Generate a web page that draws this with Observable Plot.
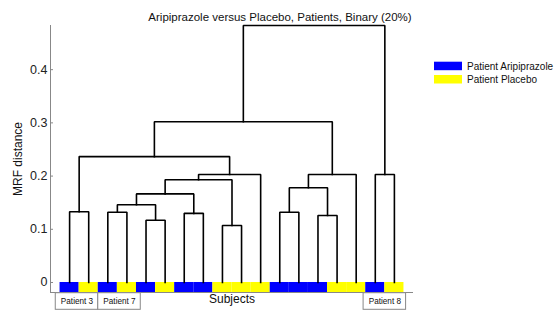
<!DOCTYPE html>
<html><head><meta charset="utf-8">
<script src="https://cdn.jsdelivr.net/npm/d3@7"></script>
<script src="https://cdn.jsdelivr.net/npm/@observablehq/plot@0.6"></script>
<style>body{margin:0;background:#fff} svg{display:block}</style>
</head><body><div id="chart"></div>
<script>
const title = "Aripiprazole versus Placebo, Patients, Binary (20%)";
const yLabel = "MRF distance";
const xLabel = "Subjects";
// leaf groups in dendrogram order: A = Aripiprazole, P = Placebo
const leafGroups = ["A","P","A","P","A","P","A","A","P","P","P","A","A","A","P","P","A","P"];
const groupKeys = ["A","P"];
const groupLabels = ["Patient Aripiprazole","Patient Placebo"];
const groupColors = ["#0000ff","#ffff00"];
// linkage rows: leaves 1..18, clusters numbered 19.. in row order
const mergeLeft   = [1, 3, 5, 20, 7, 22, 9, 24, 26, 19, 12, 14, 29, 31, 28, 17, 33];
const mergeRight  = [2, 4, 6, 21, 8, 23, 10, 25, 11, 27, 13, 15, 30, 16, 32, 18, 34];
const mergeHeight = [0.133, 0.132, 0.117, 0.146, 0.130, 0.1665, 0.107, 0.193, 0.203, 0.2366, 0.132, 0.126, 0.178, 0.203, 0.302, 0.203, 0.483];
const yTicks = [0, 0.1, 0.2, 0.3, 0.4];
const patientLabels = ["Patient 3", "Patient 7", "Patient 8"];
const patientFirstLeaf = [1, 3, 17];
const patientLastLeaf = [2, 4, 18];

const n = leafGroups.length;
const yMin = -0.0188, yMax = 0.483;
const W = 559, H = 328, mL = 50, mR = 146, mT = 25, mB = 36;
const xDomain = [0, n + 1];
const pxPerUnit = (W - mL - mR) / (xDomain[1] - xDomain[0]);

const leaves = leafGroups.map((g, i) => ({pos: i + 1, group: g}));
const nodeX = [], nodeH = [];
for (let i = 1; i <= n; i++) { nodeX[i] = i; nodeH[i] = 0; }
const segs = [];
mergeLeft.forEach((l, k) => {
  const r = mergeRight[k], h = mergeHeight[k], id = n + 1 + k;
  nodeX[id] = (nodeX[l] + nodeX[r]) / 2; nodeH[id] = h;
  segs.push({id, x: nodeX[l], y: nodeH[l]}, {id, x: nodeX[l], y: h},
            {id, x: nodeX[r], y: h}, {id, x: nodeX[r], y: nodeH[r]});
});

// annotation boxes, centred under their leaf pairs, nudged apart if they overlap
const boxHalf = 21.25 / pxPerUnit;
const boxes = patientLabels.map((label, i) => {
  const c = (patientFirstLeaf[i] + patientLastLeaf[i]) / 2;
  return {label, x1: c - boxHalf, x2: c + boxHalf};
});
for (let i = 1; i < boxes.length; i++) {
  const ov = boxes[i - 1].x2 - boxes[i].x1;
  if (ov > 0) { boxes[i - 1].x1 -= ov / 2; boxes[i - 1].x2 -= ov / 2; boxes[i].x1 += ov / 2; boxes[i].x2 += ov / 2; }
}
boxes.forEach(b => b.cx = (b.x1 + b.x2) / 2);

const font = "'Liberation Sans', Arial, Helvetica, sans-serif";
const axisGray = "#888";

const plot = Plot.plot({
  width: W, height: H,
  marginLeft: mL, marginRight: mR, marginTop: mT, marginBottom: mB,
  style: {fontFamily: font, fontSize: "12.5px", background: "#fff", color: "#222"},
  x: {domain: xDomain, axis: null},
  y: {domain: [yMin, yMax], ticks: yTicks, tickSize: 0, tickPadding: 3,
      tickFormat: d => d === 0 ? "0" : d3.format(".1f")(d), label: null},
  color: {domain: groupKeys, range: groupColors},
  marks: [
    Plot.rect(leaves, {x1: d => d.pos - 0.5, x2: d => d.pos + 0.5, y1: yMin, y2: 0, fill: "group"}),
    Plot.ruleX([xDomain[0]], {stroke: axisGray, strokeWidth: 1}),
    Plot.ruleY([yMin], {stroke: axisGray, strokeWidth: 1}),
    Plot.ruleY(yTicks, {stroke: axisGray, strokeWidth: 1, insetRight: W - mL - mR - 3}),
    Plot.line(segs, {x: "x", y: "y", z: "id", stroke: "#000", strokeWidth: 1.6, strokeLinejoin: "miter", strokeLinecap: "square"}),
    Plot.rect(boxes, {x1: "x1", x2: "x2", y1: yMin, y2: yMin, insetTop: 0.7, insetBottom: -17.3, fill: "#fff", stroke: axisGray, strokeWidth: 1}),
    Plot.text(boxes, {x: "cx", y: yMin, dy: 9, text: "label", fontSize: 8.2, fill: "#111"}),
    Plot.text([xLabel], {frameAnchor: "bottom", dy: 10, fontSize: 12, fill: "#111"}),
    Plot.text([yLabel], {frameAnchor: "left", textAnchor: "middle", rotate: -90, dx: -32.5, fontSize: 12, fill: "#111"}),
    Plot.text([title], {frameAnchor: "top", dx: (W / 2) - (mL + (W - mL - mR) / 2), dy: -13, fontSize: 11.5, fill: "#111"})
  ]
});

// legend built from the plot's colour scale
const color = plot.scale("color");
const svg = d3.select(plot);
const lg = svg.append("g").attr("font-family", font).attr("font-size", 10).attr("fill", "#111").attr("text-anchor", "start");
groupKeys.forEach((k, i) => {
  lg.append("rect").attr("x", 434).attr("y", 61.7 + i * 13.3).attr("width", 28).attr("height", 8.5).attr("fill", color.apply(k));
  lg.append("text").attr("x", 467).attr("y", 66 + i * 13.3).attr("dy", "0.35em").text(groupLabels[i]);
});

document.getElementById("chart").append(plot);
</script>
</body></html>
